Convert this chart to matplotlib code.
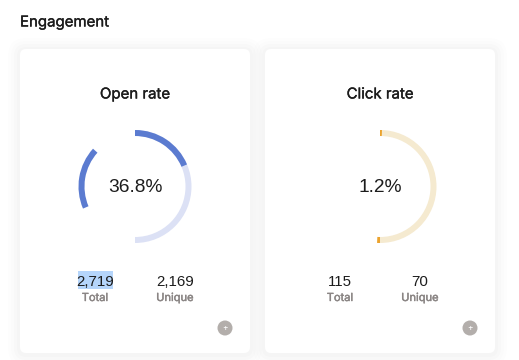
import matplotlib
matplotlib.use('Agg')
import matplotlib.pyplot as plt
import matplotlib.patheffects as pe
from matplotlib.patches import FancyBboxPatch, Wedge, Circle, Rectangle

# 数据
card_titles = ['Open rate', 'Click rate']
rates = ['36.8%', '1.2%']
totals = ['2,719', '115']
uniques = ['2,169', '70']
stat_labels = ['Total', 'Unique']
# 环形的角度，从顶部顺时针（度）
track_arcs = [(0, 180), (0, 180)]
value_arcs = [[(0, 67), (247, 312)], [(0, 2), (180, 183)]]
track_colors = ['#dce1f5', '#f5ead0']
value_colors = ['#5b7bd0', '#eba32e']

TXT = '#1c1c1c'
GREY = '#8a8584'
SANS = ['Inter', 'DejaVu Sans']
NUM = ['Liberation Sans', 'DejaVu Sans']
# 加粗一点标题
heavy = [pe.withStroke(linewidth=0.25, foreground=TXT)]
heavy_grey = [pe.withStroke(linewidth=0.3, foreground=GREY)]

fig = plt.figure(figsize=(5.19, 3.6), dpi=100, facecolor='white')
ax = fig.add_axes([0, 0, 1, 1])
ax.set_xlim(0, 519)
ax.set_ylim(360, 0)
ax.axis('off')

ax.text(20, 22.5, 'Engagement', fontsize=10.8, family=SANS, color=TXT, va='center', path_effects=heavy)

card_x = [20, 265]
centers = [135, 380]
stat_x = [(95, 175), (340, 420)]
cy = 186.5
R = 56.5
W = 6

for i in range(2):
    # 卡片阴影
    for grow, a in [(12, 0.006), (9, 0.008), (6, 0.010), (3, 0.012)]:
        ax.add_patch(FancyBboxPatch((card_x[i] - grow, 49 - grow + 1), 230 + 2 * grow, 304 + 2 * grow,
                                    boxstyle='round,pad=0,rounding_size=%d' % (6 + grow),
                                    fc='black', ec='none', alpha=a))
for i in range(2):
    ax.add_patch(FancyBboxPatch((card_x[i], 49), 230, 304, boxstyle='round,pad=0,rounding_size=6',
                                fc='white', ec='none'))
    cx = centers[i]
    ax.text(cx, 94.5, card_titles[i], fontsize=10.8, family=SANS, color=TXT,
            ha='center', va='center', path_effects=heavy)
    for a, b in [track_arcs[i]]:
        ax.add_patch(Wedge((cx, cy), R, a - 90, b - 90, width=W, fc=track_colors[i], ec='none'))
    for a, b in value_arcs[i]:
        ax.add_patch(Wedge((cx, cy), R, a - 90, b - 90, width=W, fc=value_colors[i], ec='none'))
    ax.text(cx, 187, rates[i], fontsize=13.8, family=NUM, color=TXT, ha='center', va='center')

    if i == 0:
        # 选中文字的高亮
        ax.add_patch(Rectangle((77.5, 270.5), 35, 18, fc='#b5d5fb', ec='none'))
    ax.text(stat_x[i][0], 281.5, totals[i], fontsize=10.8, family=NUM, color=TXT, ha='center', va='center')
    ax.text(stat_x[i][1], 281.5, uniques[i], fontsize=10.8, family=NUM, color=TXT, ha='center', va='center')
    ax.text(stat_x[i][0], 298, stat_labels[0], fontsize=8, family=SANS, color=GREY,
            ha='center', va='center', path_effects=heavy_grey)
    ax.text(stat_x[i][1], 298, stat_labels[1], fontsize=8, family=SANS, color=GREY,
            ha='center', va='center', path_effects=heavy_grey)

    # 右下角的加号按钮
    bx = card_x[i] + 205
    ax.add_patch(Circle((bx, 328), 7.5, fc='#b3aeab', ec='none'))
    ax.text(bx, 328, '+', fontsize=6, family=SANS, color='white', ha='center', va='center')

fig.savefig('out.png', dpi=100)
